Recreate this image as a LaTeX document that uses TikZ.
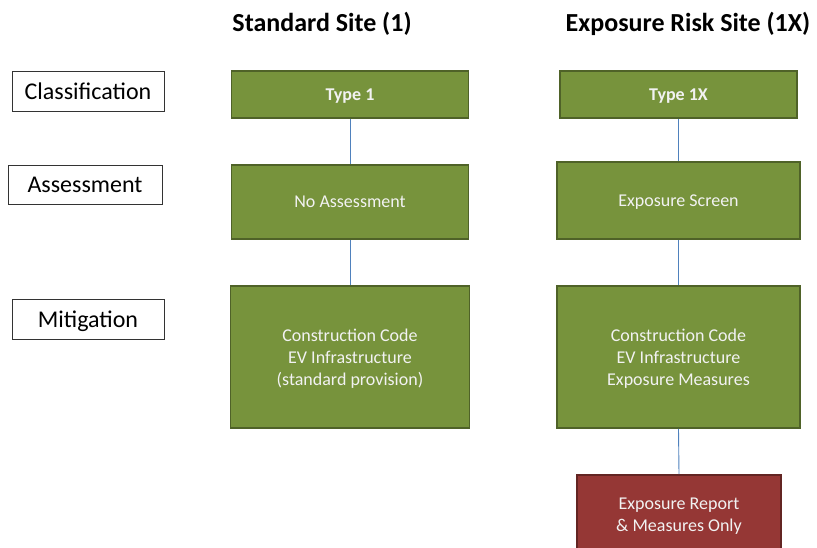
\documentclass[tikz,border=0pt]{standalone}
\usepackage{fontspec}
\setmainfont{Carlito}
\definecolor{boxgreen}{HTML}{77933C}
\definecolor{boxgreenline}{HTML}{4F6228}
\definecolor{boxred}{HTML}{953735}
\definecolor{boxredline}{HTML}{632523}
\definecolor{linkblue}{HTML}{4F81BD}
\definecolor{boxtext}{HTML}{F2F2F2}
\begin{document}
\begin{tikzpicture}[x=1pt,y=-1pt,
  greenbox/.style={draw=boxgreenline, fill=boxgreen, line width=1.6pt, text=boxtext, align=center, inner sep=0pt, text depth=0pt, font=\fontsize{18}{22}\selectfont},
  redbox/.style={draw=boxredline, fill=boxred, line width=1.6pt, text=boxtext, align=center, inner sep=0pt, text depth=0pt, font=\fontsize{18}{22}\selectfont},
  labelbox/.style={draw=black!80, fill=white, line width=0.8pt, inner sep=0pt, text depth=0pt, font=\fontsize{24}{28}\selectfont},
  title/.style={font=\bfseries\fontsize{26}{30}\selectfont},
  link/.style={draw=linkblue, line width=0.9pt}]
\useasboundingbox (0,0) rectangle (817,547);
% titles
\node[title] (t1) at (322,24) {Standard Site (1)};
\node[title] (t2) at (688,24) {Exposure Risk Site (1X)};
% row labels
\node[labelbox, minimum width=152pt, minimum height=40pt] (cls) at (88,91) {Classification};
\node[labelbox, minimum width=154pt, minimum height=39pt] (ass) at (85,184.5) {Assessment};
\node[labelbox, minimum width=152pt, minimum height=40pt] (mit) at (88,319) {Mitigation};
% left column
\node[greenbox, minimum width=237pt, minimum height=47pt, font=\bfseries\fontsize{18}{22}\selectfont] (a1) at (350,94.5) {Type 1};
\node[greenbox, minimum width=237pt, minimum height=74pt] (a2) at (350,202) {No Assessment};
\node[greenbox, minimum width=239pt, minimum height=142pt] (a3) at (350,357) {Construction Code\\EV Infrastructure\\(standard provision)};
% right column
\node[greenbox, minimum width=237pt, minimum height=47pt, font=\bfseries\fontsize{18}{22}\selectfont] (b1) at (678.5,94.5) {Type 1X};
\node[greenbox, minimum width=243pt, minimum height=77pt] (b2) at (678.5,200.5) {Exposure Screen};
\node[greenbox, minimum width=243pt, minimum height=142pt] (b3) at (678.5,357) {Construction Code\\EV Infrastructure\\Exposure Measures};
\node[redbox, minimum width=204pt, minimum height=80pt, anchor=north] (b4) at (679,474) {Exposure Report\\\& Measures Only};
% connectors
\draw[link] (a1.south) -- (a2.north);
\draw[link] (a2.south) -- (a3.north);
\draw[link] (b1.south) -- (b2.north);
\draw[link] (b2.south) -- (b3.north);
\draw[link] (b3.south) -- (b4.north);
\end{tikzpicture}
\end{document}
